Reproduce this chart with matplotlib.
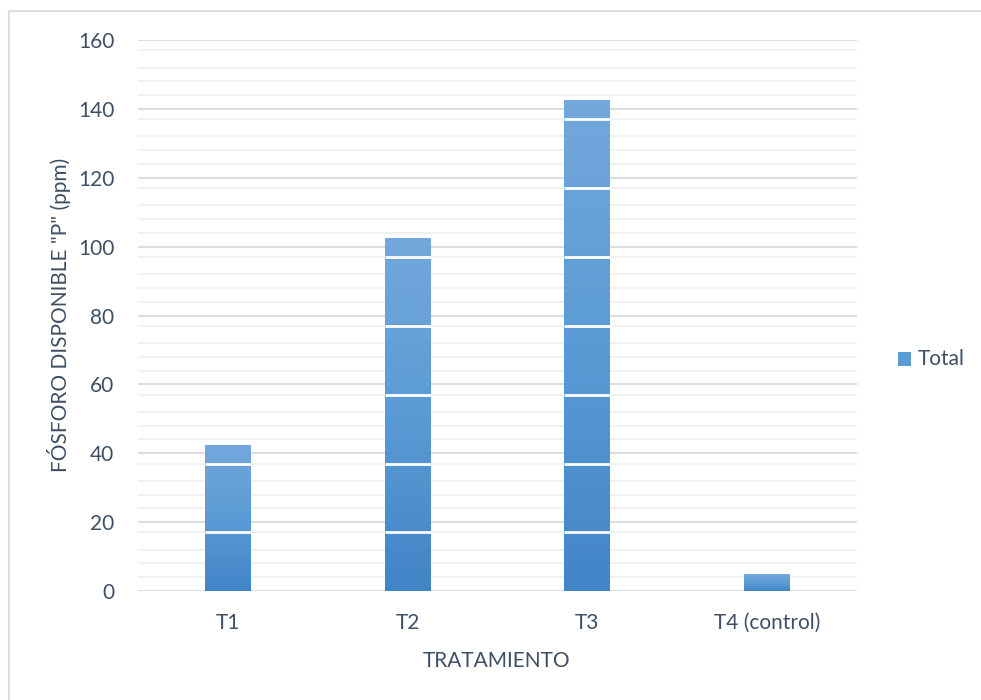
import numpy as np
import matplotlib.pyplot as plt
from matplotlib.colors import LinearSegmentedColormap
from matplotlib.patches import Rectangle

plt.rcParams['font.family'] = ['Lato', 'DejaVu Sans']

# Fósforo disponible por tratamiento (ppm)
tratamientos = ['T1', 'T2', 'T3', 'T4 (control)']
fosforo = [42.5, 102.6, 142.7, 4.8]
# cortes blancos dentro de las barras
cortes = [17, 37, 57, 77, 97, 117, 137, 157]
yticks = [0, 20, 40, 60, 80, 100, 120, 140, 160]

txt = '#3f4f64'
grid_major = '#d9dde4'
grid_minor = '#f0f1f3'
grad = LinearSegmentedColormap.from_list('azul', ['#4285c7', '#5b9bd5', '#73a8dc'])
fs = 15

fig = plt.figure(figsize=(9.81, 7.0), dpi=100)
ax = fig.add_axes([138 / 981, 1 - 591 / 700, (857 - 138) / 981, (591 - 40) / 700])

# marco del gráfico
fig.patches.append(Rectangle((8.5 / 981, -0.1), 1.2, 1 - 10.5 / 700 + 0.1,
                             transform=fig.transFigure, fill=False,
                             edgecolor='#d9dde4', lw=1.5, zorder=0))

# líneas de división menores y mayores
for base in range(0, 160, 20):
    for d in (4, 8, 12, 17):
        ax.axhline(base + d, color=grid_minor, lw=1.5, zorder=0)
for t in yticks:
    ax.axhline(t, color=grid_major, lw=1.5, zorder=0.5)

x = np.arange(len(tratamientos))
ancho = 0.255
barras = ax.bar(x, fosforo, ancho, color='none', zorder=2, label='Total')

g = np.linspace(0, 1, 256).reshape(-1, 1)
for b, val in zip(barras, fosforo):
    x0 = b.get_x()
    im = ax.imshow(g, cmap=grad, aspect='auto', origin='lower',
                   extent=(x0, x0 + ancho, 0, val), zorder=1.5)
    im.set_clip_path(b)
    c = [v for v in cortes if v < val]
    ax.hlines(c, x0, x0 + ancho, color='white', lw=2, zorder=3)

ax.set_xlim(-0.5, 3.5)
ax.set_ylim(0, 160)
ax.set_yticks(yticks)
ax.set_xticks(x)
ax.set_xticklabels(tratamientos)
ax.tick_params(axis='both', length=0, labelsize=fs, colors=txt)
ax.tick_params(axis='y', pad=17)
ax.tick_params(axis='x', pad=16)
for s in ax.spines.values():
    s.set_visible(False)

fig.text(59 / 981, 1 - 315 / 700, 'FÓSFORO DISPONIBLE "P" (ppm)', rotation=90,
         ha='center', va='center', fontsize=fs, color=txt)
fig.text(497 / 981, 1 - 661 / 700, 'TRATAMIENTO', ha='center', va='center',
         fontsize=fs, color=txt)

# leyenda
fig.patches.append(Rectangle((898 / 981, 1 - 366 / 700), 13 / 981, 14 / 700,
                             transform=fig.transFigure, facecolor='#5b9bd5',
                             edgecolor='none'))
fig.text(918 / 981, 1 - 359 / 700, 'Total', ha='left', va='center',
         fontsize=fs, color=txt)

fig.savefig('out.png', dpi=100, facecolor='white')
